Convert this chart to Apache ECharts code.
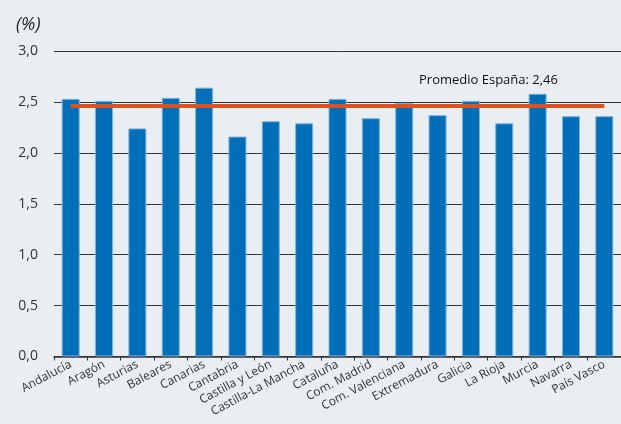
<!DOCTYPE html>
<html>
<head>
<meta charset="utf-8">
<title>Promedio por comunidad</title>
<script src="https://cdn.jsdelivr.net/npm/echarts@6/dist/echarts.min.js"></script>
<style>
  html, body { margin: 0; padding: 0; background: #e9eef3; }
  #chart { width: 621px; height: 424px; }
</style>
</head>
<body>
<div id="chart"></div>
<script>
// datos
var regiones = ['Andalucía', 'Aragón', 'Asturias', 'Baleares', 'Canarias', 'Cantabria',
  'Castilla y León', 'Castilla-La Mancha', 'Cataluña', 'Com. Madrid', 'Com. Valenciana',
  'Extremadura', 'Galicia', 'La Rioja', 'Murcia', 'Navarra', 'País Vasco'];
var valores = [2.53, 2.51, 2.24, 2.54, 2.64, 2.16, 2.31, 2.29, 2.53, 2.34, 2.49, 2.37, 2.51, 2.29, 2.58, 2.36, 2.36];
var promedio = 2.46;
var ticksY = [0, 0.5, 1, 1.5, 2, 2.5, 3];

var font = '"Open Sans", "Noto Sans", sans-serif';
var coma = function (v, d) { return v.toFixed(d).replace('.', ','); };

var chart = echarts.init(document.getElementById('chart'));
chart.setOption({
  backgroundColor: '#e9eef3',
  animation: false,
  title: [{
    text: '(%)',
    left: 11, top: 11,
    textStyle: { fontFamily: font, fontSize: 18, fontStyle: 'italic', fontWeight: 'normal', color: '#222' }
  }, {
    text: 'Promedio España: ' + coma(promedio, 2),
    left: 414, top: 69,
    textStyle: { fontFamily: font, fontSize: 13, fontWeight: 'normal', color: '#111' }
  }],
  grid: { left: 54, right: 0, top: 51, bottom: 67.5 },
  xAxis: {
    type: 'category',
    data: regiones,
    axisLine: { lineStyle: { color: '#333', width: 1.5 } },
    axisTick: { show: true, length: 4, lineStyle: { color: '#333' } },
    axisLabel: {
      rotate: 28, interval: 0, margin: 7,
      fontFamily: font, fontSize: 12, color: '#333'
    }
  },
  yAxis: {
    type: 'value',
    min: 0, max: 3, interval: 0.5,
    axisLine: { show: false },
    axisTick: { show: false },
    splitLine: { lineStyle: { color: '#333', width: 1 } },
    axisLabel: {
      margin: 16, fontFamily: font, fontSize: 14, color: '#333',
      formatter: function (v) { return ticksY.indexOf(v) >= 0 ? coma(v, 1) : ''; }
    }
  },
  series: [{
    type: 'bar',
    data: valores,
    barWidth: 18,
    itemStyle: { color: '#006fb9', borderColor: '#7fb0da', borderWidth: 1 },
    markLine: {
      symbol: 'none',
      silent: true,
      label: { show: false },
      lineStyle: { color: '#e0521b', width: 4, type: 'solid', opacity: 1 },
      data: [[{ coord: [0, promedio] }, { coord: [regiones.length - 1, promedio] }]]
    }
  }]
});
</script>
</body>
</html>
